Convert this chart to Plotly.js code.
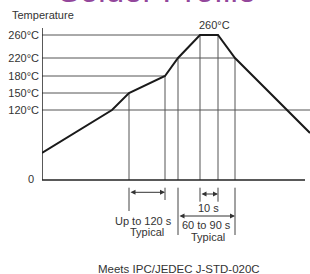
<!DOCTYPE html>
<html><head><meta charset="utf-8">
<script src="https://cdn.plot.ly/plotly-3.0.1.min.js"></script>
<style>html,body{margin:0;padding:0;background:#fff}#chart{width:310px;height:274px}</style>
</head><body><div id="chart"></div>
<script>
// Schematic reflow profile (positions in schematic units, not to scale)
const tempLabels = ['120°C', '150°C', '180°C', '220°C', '260°C'];
const tempLevels = [70, 87, 104, 122, 145];
const guideEnds  = [268, 87, 123, 193, 158];

const profileTime  = [0, 70, 87, 123, 136, 158, 176, 193, 268];
const profileLevel = [27, 70, 87, 104, 122, 145, 145, 122, 47];

const dropTime  = [87, 123, 136, 158, 176, 193];
const dropLevel = [87, 104, 122, 145, 145, 122];

const spanFrom   = [87, 158, 136];
const spanTo     = [123, 176, 193];
const spanLabels = [['Up to 120 s', 'Typical'], ['10 s'], ['60 to 90 s', 'Typical']];

const peakLabel = '260°C';
const zeroLabel = '0';
const footnote = 'Meets IPC/JEDEC J-STD-020C';
const chartTitle = 'Solder Profile';

const FONT = 'Arial, "Liberation Sans", sans-serif';
const TXT = '#333';

// horizontal guides
const hx = [], hy = [];
tempLevels.forEach((v, i) => { hx.push(0, guideEnds[i], null); hy.push(v, v, null); });
// vertical drop lines
const vx = [], vy = [];
dropTime.forEach((t, i) => { vx.push(t, t, null); vy.push(dropLevel[i], 0, null); });

// dimension extension lines below the axis
const extBottom = [[-31, -20], [-21.7, -21.7], [-55, -55]];
const ex = [], ey = [];
spanFrom.forEach((f, i) => {
  ex.push(f, f, null, spanTo[i], spanTo[i], null);
  ey.push(-7.7, extBottom[i][0], null, -7.7, extBottom[i][1], null);
});
const arrowY = [-12.3, -14, -36];
const labelPos = [
  [[101.5, -41], [104.7, -52]],
  [[166.3, -28.3]],
  [[164.2, -45.2], [166.3, -56.5]]
];

const traces = [
  {x: hx, y: hy, mode: 'lines', line: {color: '#555', width: 1}, hoverinfo: 'skip'},
  {x: vx, y: vy, mode: 'lines', line: {color: '#555', width: 1}, hoverinfo: 'skip'},
  {x: ex, y: ey, mode: 'lines', line: {color: '#444', width: 1}, hoverinfo: 'skip'},
  {x: [0, 0, null, 0, 263], y: [152, 0, null, 0, 0], mode: 'lines', line: {color: '#222', width: 1.5}, hoverinfo: 'skip'},
  {x: profileTime, y: profileLevel, mode: 'lines', line: {color: '#1a1a1a', width: 2}, hoverinfo: 'skip'}
];

const ann = [];
spanFrom.forEach((f, i) => {
  ann.push({x: spanTo[i], y: arrowY[i], ax: f, ay: arrowY[i], xref: 'x', yref: 'y', axref: 'x', ayref: 'y',
    text: '', showarrow: true, arrowhead: 2, arrowside: 'end+start', arrowsize: 1, arrowwidth: 1, arrowcolor: '#333', standoff: 0, startstandoff: 0});
  spanLabels[i].forEach((s, j) => {
    ann.push({x: labelPos[i][j][0], y: labelPos[i][j][1], xref: 'x', yref: 'y', text: s, showarrow: false,
      xanchor: 'center', yanchor: 'middle', borderpad: 0, font: {family: FONT, size: 11, color: TXT}});
  });
});
ann.push({x: 172, y: 155, xref: 'x', yref: 'y', text: peakLabel, showarrow: false, font: {family: FONT, size: 11, color: TXT}});
ann.push({x: 0.5, y: 165, xref: 'x', yref: 'y', text: 'Temperature', showarrow: false, font: {family: FONT, size: 11, color: TXT}});
ann.push({x: -16 / 268, y: 1, xref: 'paper', yref: 'y', text: zeroLabel, showarrow: false, font: {family: FONT, size: 11, color: TXT}});
ann.push({x: 137, y: -89, xref: 'x', yref: 'y', text: footnote, showarrow: false, font: {family: FONT, size: 11.5, color: TXT}});
ann.push({x: 115, y: 1, xref: 'x', yref: 'paper', text: chartTitle, showarrow: false, yanchor: 'bottom', yshift: -11,
  font: {family: FONT, size: 33, color: '#93479b'}});

const layout = {
  width: 310, height: 274,
  margin: {l: 42, r: 0, t: 0, b: 0, pad: 0},
  paper_bgcolor: '#fff', plot_bgcolor: '#fff',
  showlegend: false,
  xaxis: {range: [0, 268], showgrid: false, zeroline: false, showline: false, showticklabels: false, ticks: '', fixedrange: true},
  yaxis: {range: [-94, 180], showgrid: false, zeroline: false, showline: false, ticks: '',
    tickvals: tempLevels, ticktext: tempLabels, ticklabelstandoff: 2,
    tickfont: {family: FONT, size: 11, color: TXT}, fixedrange: true},
  annotations: ann
};
Plotly.newPlot('chart', traces, layout, {staticPlot: true, displayModeBar: false});
</script></body></html>
